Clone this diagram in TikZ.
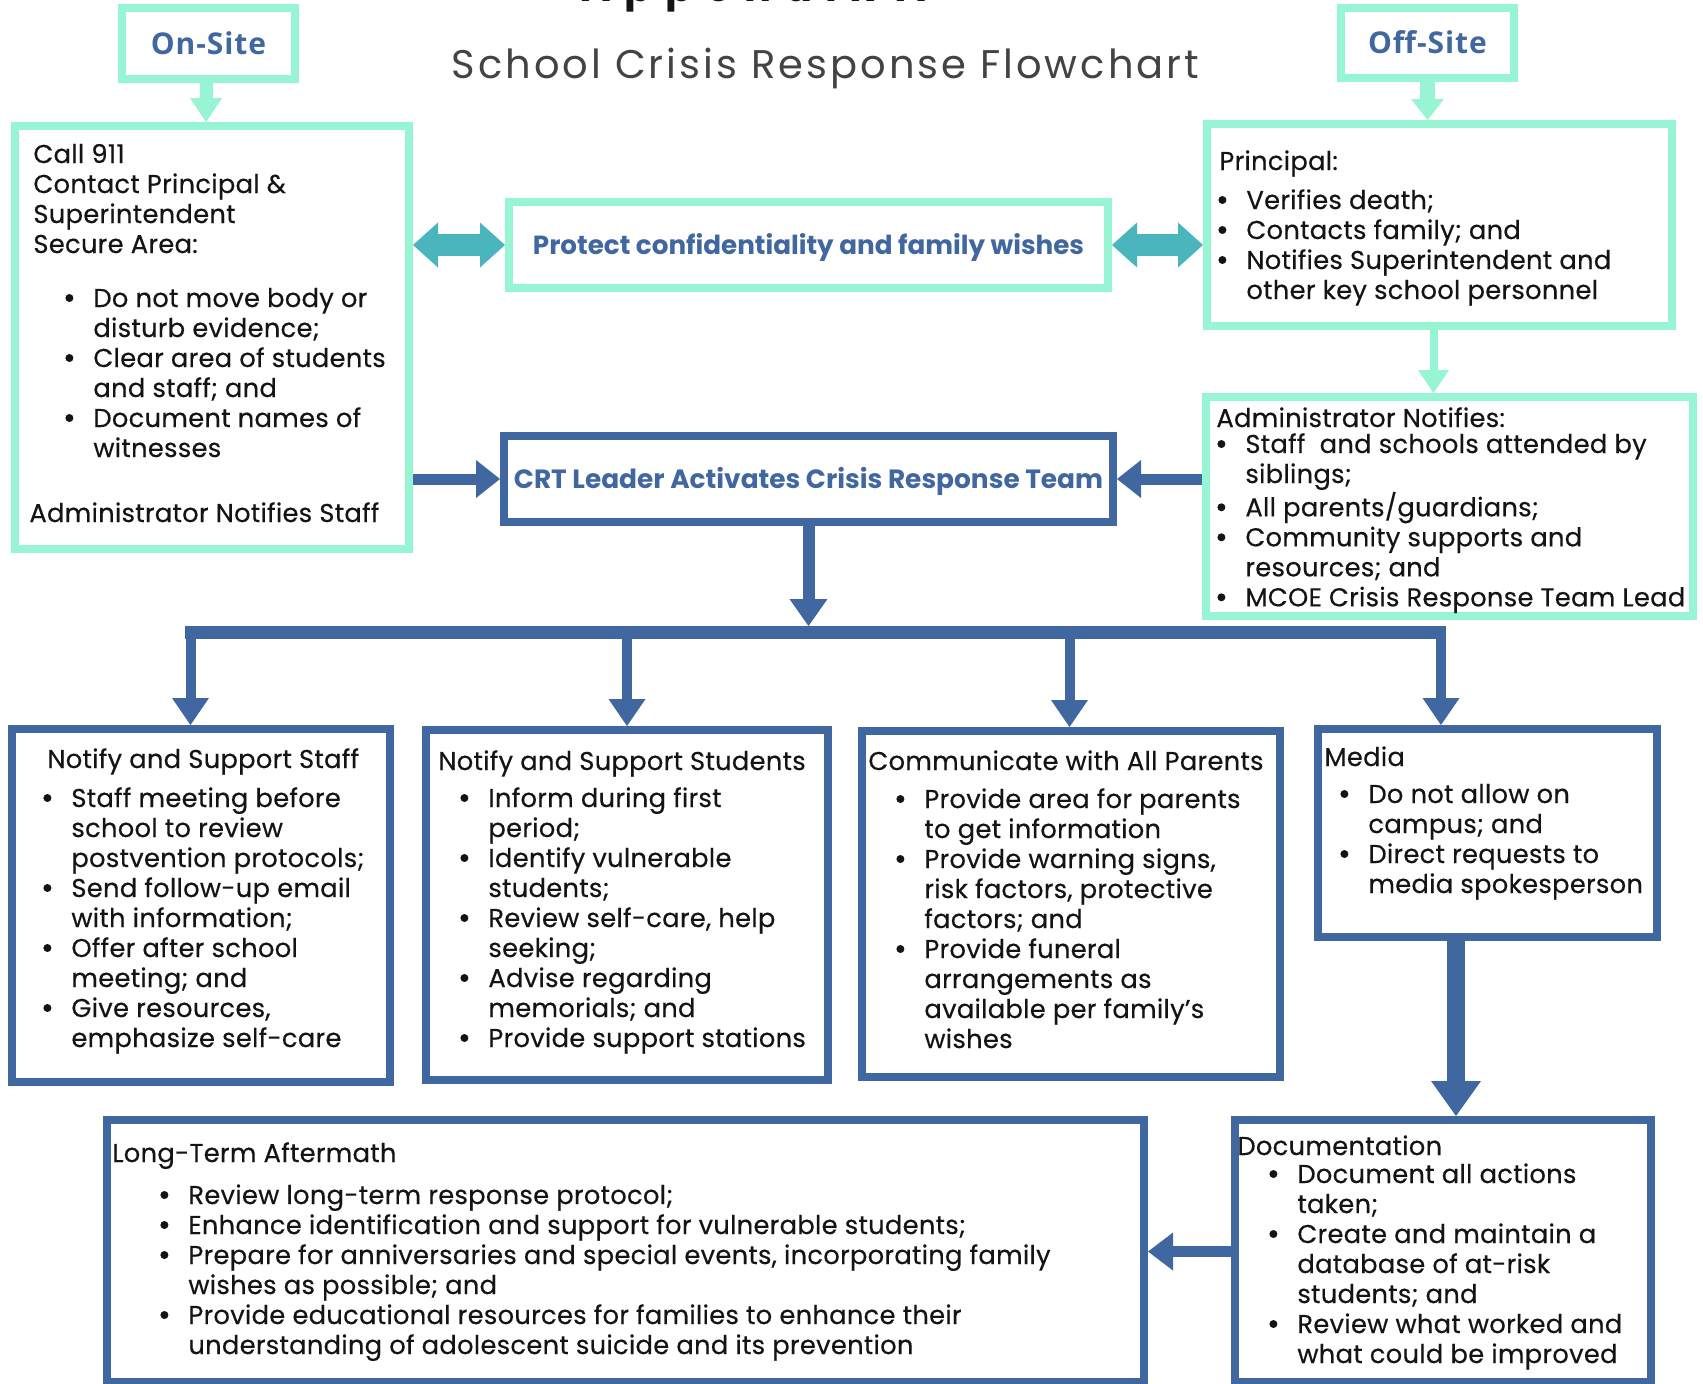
\documentclass[tikz,border=0pt]{standalone}
\usepackage{fontspec}
\setmainfont{Poppins}[FakeBold=0.35,LetterSpace=1]
\newfontfamily\boldf{Poppins}
\newfontfamily\siteF{Open Sans}[LetterSpace=3]
\newfontfamily\titlef{Poppins}[LetterSpace=7.6]
\newfontfamily\appf{Poppins}[LetterSpace=34]
\usetikzlibrary{arrows.meta}
\definecolor{mint}{RGB}{152,245,212}
\definecolor{bluec}{RGB}{65,103,160}
\definecolor{tealc}{RGB}{75,181,189}
\definecolor{ink}{RGB}{20,20,20}
\newcommand\bdot{\tikz[baseline=0pt]{\useasboundingbox (0pt,0pt) rectangle (5pt,5pt); \fill (3pt,4.5pt) circle[radius=2pt];}}
\newcommand\bl{\makebox[15pt][l]{\bdot}}
\newcommand\nb{\hspace*{15pt}}
\newcommand\tb[1]{\begin{tabular}[t]{@{}l@{}}#1\end{tabular}}
\newcommand\mkbox[7]{%
  \pgfmathsetmacro\mkbw{(#5-#3-8)*0.5}%
  \pgfmathsetmacro\mkbh{(#6-#4-8)*0.5}%
  \node[#2, minimum width=\mkbw pt, minimum height=\mkbh pt] (#1) at ({(#3+#5)/2},{(#4+#6)/2}) {#7};%
}
\tikzset{
  mintbox/.style={draw=mint, line width=4pt, inner sep=0pt, fill=white},
  bluebox/.style={draw=bluec, line width=4pt, inner sep=0pt, fill=white},
  lblOn/.style={font=\siteF\bfseries\fontsize{15}{18}\selectfont, text=bluec, text height=10.7pt, text depth=0pt},
  lblP/.style={font=\boldf\bfseries\fontsize{13.1}{15}\selectfont, text=bluec, text height=9pt, text depth=0pt},
  lblC/.style={font=\boldf\bfseries\fontsize{13.2}{16}\selectfont, text=bluec, text height=9.4pt, text depth=0pt},
  body/.style={anchor=base west, inner sep=0pt, text=ink, font=\fontsize{12.9}{15}\selectfont},
  arr/.style n args={4}{draw=#1, line width=#2, -{Triangle[length=#3, width=#4, line width=0pt]}},
  darr/.style n args={4}{draw=#1, line width=#2, {Triangle[length=#3, width=#4, line width=0pt]}-{Triangle[length=#3, width=#4, line width=0pt]}},
}
\begin{document}
\begin{tikzpicture}[x=0.5pt,y=-0.5pt]
\useasboundingbox (0,0) rectangle (1703,1383);
\clip (0,0) rectangle (1703,1383);
\fill[white] (0,0) rectangle (1703,1383);

% titles
\node[anchor=base, inner sep=0pt, text=ink, font=\appf\bfseries\fontsize{20}{24}\selectfont] (app) at (754,1.5) {Appendix A};
\node[anchor=base, inner sep=0pt, text=ink!80, font=\titlef\fontsize{20}{24}\selectfont] (title) at (825.5,78) {School Crisis Response Flowchart};

% boxes
\mkbox{onsite}{mintbox,lblOn}{118}{4}{299}{83}{On-Site}
\mkbox{offsite}{mintbox,lblOn}{1337}{4}{1518}{82}{Off-Site}
\mkbox{callbox}{mintbox}{11}{122}{413}{553}{}
\mkbox{protect}{mintbox,lblP}{505}{198}{1112}{292}{Protect confidentiality and family wishes}
\mkbox{principal}{mintbox}{1203}{120}{1676}{330}{}
\mkbox{admin}{mintbox}{1202}{393}{1697}{620}{}
\mkbox{crt}{bluebox,lblC}{500}{432}{1117}{526}{CRT Leader Activates Crisis Response Team}
\mkbox{staff}{bluebox}{8}{725}{394}{1086}{}
\mkbox{students}{bluebox}{422}{726}{832}{1084}{}
\mkbox{parents}{bluebox}{858}{727}{1284}{1081}{}
\mkbox{media}{bluebox}{1314}{725}{1661}{941}{}
\mkbox{lterm}{bluebox}{103}{1116}{1148}{1386}{}
\mkbox{doc}{bluebox}{1231}{1116}{1655}{1386}{}

% texts
\node[body] (cA) at (33,163) {\tb{Call 911\\Contact Principal \&\\Superintendent\\Secure Area:}};
\node[body] (cB) at (63,307) {\tb{\bl Do not move body or\\\nb disturb evidence;\\\bl Clear area of students\\\nb and staff; and\\\bl Document names of\\\nb witnesses}};
\node[body] (cC) at (29,522) {Administrator Notifies Staff};

\node[body] (pA) at (1219,170) {Principal:};
\node[body] (pB) at (1216,209) {\tb{\bl Verifies death;\\\bl Contacts family; and\\\bl Notifies Superintendent and\\\nb other key school personnel}};

\node[body] (aA) at (1216,427) {Administrator Notifies:};
\node[body] (aB) at (1215,453) {\tb{\bl Staff\ \ and schools attended by\\\nb siblings;\\\bl All parents/guardians;\\\bl Community supports and\\\nb resources; and\\\bl MCOE Crisis Response Team Lead}};

\node[body] (sA) at (47,768) {Notify and Support Staff};
\node[body] (sB) at (41,807) {\tb{\bl Staff meeting before\\\nb school to review\\\nb postvention protocols;\\\bl Send follow-up email\\\nb with information;\\\bl Offer after school\\\nb meeting; and\\\bl Give resources,\\\nb emphasize self-care}};

\node[body] (uA) at (438,770) {Notify and Support Students};
\node[body] (uB) at (458,807) {\tb{\bl Inform during first\\\nb period;\\\bl Identify vulnerable\\\nb students;\\\bl Review self-care, help\\\nb seeking;\\\bl Advise regarding\\\nb memorials; and\\\bl Provide support stations}};

\node[body] (rA) at (868,770) {Communicate with All Parents};
\node[body] (rB) at (894,808) {\tb{\bl Provide area for parents\\\nb to get information\\\bl Provide warning signs,\\\nb risk factors, protective\\\nb factors; and\\\bl Provide funeral\\\nb arrangements as\\\nb available per family's\\\nb wishes}};

\node[body] (mA) at (1324,766) {Media};
\node[body] (mB) at (1338,803) {\tb{\bl Do not allow on\\\nb campus; and\\\bl Direct requests to\\\nb media spokesperson}};

\node[body] (lA) at (112,1162) {Long-Term Aftermath};
\node[body] (lB) at (158,1204) {\tb{\bl Review long-term response protocol;\\\bl Enhance identification and support for vulnerable students;\\\bl Prepare for anniversaries and special events, incorporating family\\\nb wishes as possible; and\\\bl Provide educational resources for families to enhance their\\\nb understanding of adolescent suicide and its prevention}};

\node[body] (dA) at (1237,1155) {Documentation};
\node[body] (dB) at (1267,1183) {\tb{\bl Document all actions\\\nb taken;\\\bl Create and maintain a\\\nb database of at-risk\\\nb students; and\\\bl Review what worked and\\\nb what could be improved}};

% helper coordinates
\coordinate (os) at (206,0);
\coordinate (pa) at (1433.5,0);
\coordinate (busL) at (185,632.5);
\coordinate (busR) at (1446,632.5);
\coordinate (t1) at (190.5,632.5);
\coordinate (t2) at (627,632.5);
\coordinate (t3) at (1069.5,632.5);
\coordinate (t4) at (1441,632.5);
\coordinate (m2d) at (1456,0);
\coordinate (dl) at (0,1251.5);

% connectors
\draw[arr={mint}{6.5pt}{12pt}{16pt}] (onsite.south -| os) -- (os |- callbox.north);
\draw[arr={mint}{7.5pt}{10.5pt}{16.5pt}] (offsite.south) -- (offsite.south |- principal.north);
\draw[arr={mint}{4pt}{11.5pt}{15.5pt}] (principal.south -| pa) -- (pa |- admin.north);
\draw[darr={tealc}{11pt}{12.5pt}{22.5pt}] (callbox.east |- protect.west) -- (protect.west);
\draw[darr={tealc}{11pt}{12.5pt}{22.5pt}] (protect.east) -- (principal.west |- protect.east);
\draw[arr={bluec}{5.5pt}{12pt}{19pt}] (callbox.east |- crt.west) -- (crt.west);
\draw[arr={bluec}{5.5pt}{12pt}{19pt}] (admin.west |- crt.east) -- (crt.east);
\draw[arr={bluec}{6pt}{13.5pt}{19pt}, shorten >=3.25pt] (crt.south) -- (crt.south |- busL);
\draw[bluec, line width=6.5pt] (busL) -- (busR);
\draw[arr={bluec}{5pt}{13.5pt}{18.5pt}] (t1) -- (t1 |- staff.north);
\draw[arr={bluec}{5pt}{13.5pt}{18.5pt}] (t2) -- (t2 |- students.north);
\draw[arr={bluec}{5pt}{13.5pt}{18.5pt}] (t3) -- (t3 |- parents.north);
\draw[arr={bluec}{5pt}{13.5pt}{18.5pt}] (t4) -- (t4 |- media.north);
\draw[arr={bluec}{9pt}{17.5pt}{25pt}] (media.south -| m2d) -- (m2d |- doc.north);
\draw[arr={bluec}{5.5pt}{12.5pt}{19pt}] (doc.west |- dl) -- (lterm.east |- dl);
\end{tikzpicture}
\end{document}
